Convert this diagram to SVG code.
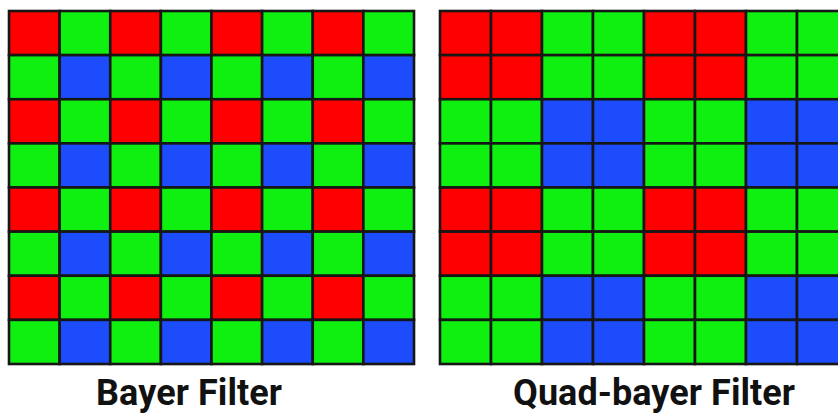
<svg xmlns="http://www.w3.org/2000/svg" width="838" height="414" viewBox="0 0 838 414">
<style>
.r{fill:#fe0000}.g{fill:#10f010}.b{fill:#1c4cfb}
rect.c{stroke:#161616;stroke-width:2.6}
text{font-family:Roboto,"Liberation Sans",sans-serif;font-weight:bold;font-size:36px;fill:#111}
</style>
<rect width="838" height="414" fill="#fff"/>
<g id="bayer">
<rect class="c r" x="9" y="11" width="50.63" height="44.13"/><rect class="c g" x="59.63" y="11" width="50.63" height="44.13"/><rect class="c r" x="110.25" y="11" width="50.63" height="44.13"/><rect class="c g" x="160.88" y="11" width="50.63" height="44.13"/><rect class="c r" x="211.5" y="11" width="50.63" height="44.13"/><rect class="c g" x="262.13" y="11" width="50.63" height="44.13"/><rect class="c r" x="312.75" y="11" width="50.63" height="44.13"/><rect class="c g" x="363.38" y="11" width="50.63" height="44.13"/>
<rect class="c g" x="9" y="55.13" width="50.63" height="44.13"/><rect class="c b" x="59.63" y="55.13" width="50.63" height="44.13"/><rect class="c g" x="110.25" y="55.13" width="50.63" height="44.13"/><rect class="c b" x="160.88" y="55.13" width="50.63" height="44.13"/><rect class="c g" x="211.5" y="55.13" width="50.63" height="44.13"/><rect class="c b" x="262.13" y="55.13" width="50.63" height="44.13"/><rect class="c g" x="312.75" y="55.13" width="50.63" height="44.13"/><rect class="c b" x="363.38" y="55.13" width="50.63" height="44.13"/>
<rect class="c r" x="9" y="99.25" width="50.63" height="44.13"/><rect class="c g" x="59.63" y="99.25" width="50.63" height="44.13"/><rect class="c r" x="110.25" y="99.25" width="50.63" height="44.13"/><rect class="c g" x="160.88" y="99.25" width="50.63" height="44.13"/><rect class="c r" x="211.5" y="99.25" width="50.63" height="44.13"/><rect class="c g" x="262.13" y="99.25" width="50.63" height="44.13"/><rect class="c r" x="312.75" y="99.25" width="50.63" height="44.13"/><rect class="c g" x="363.38" y="99.25" width="50.63" height="44.13"/>
<rect class="c g" x="9" y="143.38" width="50.63" height="44.13"/><rect class="c b" x="59.63" y="143.38" width="50.63" height="44.13"/><rect class="c g" x="110.25" y="143.38" width="50.63" height="44.13"/><rect class="c b" x="160.88" y="143.38" width="50.63" height="44.13"/><rect class="c g" x="211.5" y="143.38" width="50.63" height="44.13"/><rect class="c b" x="262.13" y="143.38" width="50.63" height="44.13"/><rect class="c g" x="312.75" y="143.38" width="50.63" height="44.13"/><rect class="c b" x="363.38" y="143.38" width="50.63" height="44.13"/>
<rect class="c r" x="9" y="187.5" width="50.63" height="44.13"/><rect class="c g" x="59.63" y="187.5" width="50.63" height="44.13"/><rect class="c r" x="110.25" y="187.5" width="50.63" height="44.13"/><rect class="c g" x="160.88" y="187.5" width="50.63" height="44.13"/><rect class="c r" x="211.5" y="187.5" width="50.63" height="44.13"/><rect class="c g" x="262.13" y="187.5" width="50.63" height="44.13"/><rect class="c r" x="312.75" y="187.5" width="50.63" height="44.13"/><rect class="c g" x="363.38" y="187.5" width="50.63" height="44.13"/>
<rect class="c g" x="9" y="231.63" width="50.63" height="44.13"/><rect class="c b" x="59.63" y="231.63" width="50.63" height="44.13"/><rect class="c g" x="110.25" y="231.63" width="50.63" height="44.13"/><rect class="c b" x="160.88" y="231.63" width="50.63" height="44.13"/><rect class="c g" x="211.5" y="231.63" width="50.63" height="44.13"/><rect class="c b" x="262.13" y="231.63" width="50.63" height="44.13"/><rect class="c g" x="312.75" y="231.63" width="50.63" height="44.13"/><rect class="c b" x="363.38" y="231.63" width="50.63" height="44.13"/>
<rect class="c r" x="9" y="275.75" width="50.63" height="44.13"/><rect class="c g" x="59.63" y="275.75" width="50.63" height="44.13"/><rect class="c r" x="110.25" y="275.75" width="50.63" height="44.13"/><rect class="c g" x="160.88" y="275.75" width="50.63" height="44.13"/><rect class="c r" x="211.5" y="275.75" width="50.63" height="44.13"/><rect class="c g" x="262.13" y="275.75" width="50.63" height="44.13"/><rect class="c r" x="312.75" y="275.75" width="50.63" height="44.13"/><rect class="c g" x="363.38" y="275.75" width="50.63" height="44.13"/>
<rect class="c g" x="9" y="319.88" width="50.63" height="44.13"/><rect class="c b" x="59.63" y="319.88" width="50.63" height="44.13"/><rect class="c g" x="110.25" y="319.88" width="50.63" height="44.13"/><rect class="c b" x="160.88" y="319.88" width="50.63" height="44.13"/><rect class="c g" x="211.5" y="319.88" width="50.63" height="44.13"/><rect class="c b" x="262.13" y="319.88" width="50.63" height="44.13"/><rect class="c g" x="312.75" y="319.88" width="50.63" height="44.13"/><rect class="c b" x="363.38" y="319.88" width="50.63" height="44.13"/>
</g>
<g id="quad">
<rect class="c r" x="440" y="11" width="51" height="44.13"/><rect class="c r" x="491" y="11" width="51" height="44.13"/><rect class="c g" x="542" y="11" width="51" height="44.13"/><rect class="c g" x="593" y="11" width="51" height="44.13"/><rect class="c r" x="644" y="11" width="51" height="44.13"/><rect class="c r" x="695" y="11" width="51" height="44.13"/><rect class="c g" x="746" y="11" width="51" height="44.13"/><rect class="c g" x="797" y="11" width="51" height="44.13"/>
<rect class="c r" x="440" y="55.13" width="51" height="44.13"/><rect class="c r" x="491" y="55.13" width="51" height="44.13"/><rect class="c g" x="542" y="55.13" width="51" height="44.13"/><rect class="c g" x="593" y="55.13" width="51" height="44.13"/><rect class="c r" x="644" y="55.13" width="51" height="44.13"/><rect class="c r" x="695" y="55.13" width="51" height="44.13"/><rect class="c g" x="746" y="55.13" width="51" height="44.13"/><rect class="c g" x="797" y="55.13" width="51" height="44.13"/>
<rect class="c g" x="440" y="99.25" width="51" height="44.13"/><rect class="c g" x="491" y="99.25" width="51" height="44.13"/><rect class="c b" x="542" y="99.25" width="51" height="44.13"/><rect class="c b" x="593" y="99.25" width="51" height="44.13"/><rect class="c g" x="644" y="99.25" width="51" height="44.13"/><rect class="c g" x="695" y="99.25" width="51" height="44.13"/><rect class="c b" x="746" y="99.25" width="51" height="44.13"/><rect class="c b" x="797" y="99.25" width="51" height="44.13"/>
<rect class="c g" x="440" y="143.38" width="51" height="44.13"/><rect class="c g" x="491" y="143.38" width="51" height="44.13"/><rect class="c b" x="542" y="143.38" width="51" height="44.13"/><rect class="c b" x="593" y="143.38" width="51" height="44.13"/><rect class="c g" x="644" y="143.38" width="51" height="44.13"/><rect class="c g" x="695" y="143.38" width="51" height="44.13"/><rect class="c b" x="746" y="143.38" width="51" height="44.13"/><rect class="c b" x="797" y="143.38" width="51" height="44.13"/>
<rect class="c r" x="440" y="187.5" width="51" height="44.13"/><rect class="c r" x="491" y="187.5" width="51" height="44.13"/><rect class="c g" x="542" y="187.5" width="51" height="44.13"/><rect class="c g" x="593" y="187.5" width="51" height="44.13"/><rect class="c r" x="644" y="187.5" width="51" height="44.13"/><rect class="c r" x="695" y="187.5" width="51" height="44.13"/><rect class="c g" x="746" y="187.5" width="51" height="44.13"/><rect class="c g" x="797" y="187.5" width="51" height="44.13"/>
<rect class="c r" x="440" y="231.63" width="51" height="44.13"/><rect class="c r" x="491" y="231.63" width="51" height="44.13"/><rect class="c g" x="542" y="231.63" width="51" height="44.13"/><rect class="c g" x="593" y="231.63" width="51" height="44.13"/><rect class="c r" x="644" y="231.63" width="51" height="44.13"/><rect class="c r" x="695" y="231.63" width="51" height="44.13"/><rect class="c g" x="746" y="231.63" width="51" height="44.13"/><rect class="c g" x="797" y="231.63" width="51" height="44.13"/>
<rect class="c g" x="440" y="275.75" width="51" height="44.13"/><rect class="c g" x="491" y="275.75" width="51" height="44.13"/><rect class="c b" x="542" y="275.75" width="51" height="44.13"/><rect class="c b" x="593" y="275.75" width="51" height="44.13"/><rect class="c g" x="644" y="275.75" width="51" height="44.13"/><rect class="c g" x="695" y="275.75" width="51" height="44.13"/><rect class="c b" x="746" y="275.75" width="51" height="44.13"/><rect class="c b" x="797" y="275.75" width="51" height="44.13"/>
<rect class="c g" x="440" y="319.88" width="51" height="44.13"/><rect class="c g" x="491" y="319.88" width="51" height="44.13"/><rect class="c b" x="542" y="319.88" width="51" height="44.13"/><rect class="c b" x="593" y="319.88" width="51" height="44.13"/><rect class="c g" x="644" y="319.88" width="51" height="44.13"/><rect class="c g" x="695" y="319.88" width="51" height="44.13"/><rect class="c b" x="746" y="319.88" width="51" height="44.13"/><rect class="c b" x="797" y="319.88" width="51" height="44.13"/>
</g>
<text x="96" y="405" textLength="186">Bayer Filter</text>
<text x="513" y="405" textLength="282">Quad-bayer Filter</text>
</svg>
